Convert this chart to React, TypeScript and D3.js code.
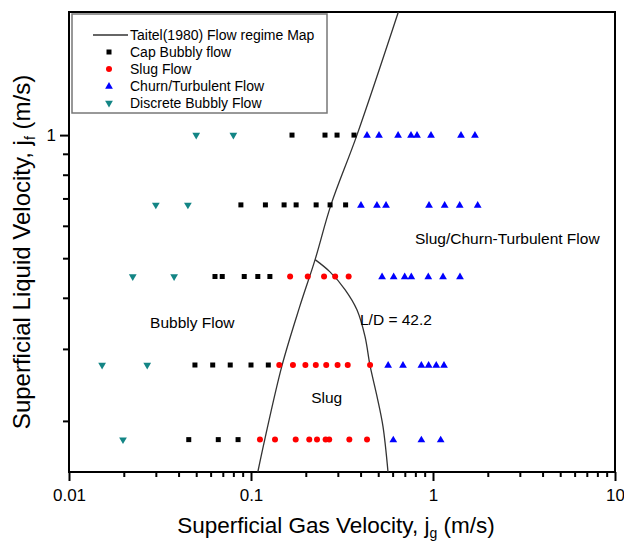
import * as d3 from "d3";
import React, { useRef, useEffect } from "react";

// superficial liquid velocity of each measurement row (m/s)
const liquidLevels = [1.0, 0.675, 0.451, 0.274, 0.18];

// superficial gas velocity of the points, one list per liquid row
const discreteBubbly = [
  [0.05, 0.08],
  [0.03, 0.045],
  [0.0224, 0.0378],
  [0.0152, 0.0269],
  [0.0198],
];
const capBubbly = [
  [0.168, 0.255, 0.297, 0.368],
  [0.088, 0.12, 0.152, 0.177, 0.228, 0.272, 0.331],
  [0.0634, 0.0695, 0.0918, 0.109, 0.127],
  [0.0492, 0.0616, 0.0769, 0.1, 0.1245],
  [0.0455, 0.0661, 0.0849],
];
const slugFlow = [
  [],
  [],
  [0.164, 0.205, 0.252, 0.29, 0.344],
  [0.143, 0.17, 0.199, 0.227, 0.259, 0.299, 0.34, 0.451],
  [0.112, 0.1355, 0.176, 0.209, 0.2305, 0.257, 0.269, 0.347, 0.434],
];
const churnTurbulent = [
  [0.434, 0.505, 0.643, 0.757, 0.817, 0.975, 1.425, 1.7],
  [0.402, 0.492, 0.552, 0.951, 1.159, 1.402, 1.76],
  [0.525, 0.608, 0.699, 0.76, 0.942, 1.135, 1.407],
  [0.567, 0.684, 0.863, 0.946, 1.042, 1.149],
  [0.605, 0.863, 1.102],
];

// Taitel (1980) bubbly/slug boundary
const taitelJg = [0.109, 0.119, 0.148, 0.185, 0.225, 0.275, 0.382, 0.645];
const taitelJf = [0.15, 0.18, 0.273, 0.38, 0.496, 0.675, 1.0, 2.0];
// slug / churn boundary, L/D = 42.2
const ldJg = [0.225, 0.2716, 0.3285, 0.382, 0.423, 0.451, 0.492, 0.531, 0.566];
const ldJf = [0.496, 0.463, 0.419, 0.374, 0.322, 0.273, 0.23, 0.194, 0.15];

const xTickLabels = ["0.01", "0.1", "1", "10"];
const yTickLabels = ["1"];

const regionLabels = ["Slug/Churn-Turbulent Flow", "Bubbly Flow", "L/D = 42.2", "Slug"];
const regionJg = [0.796, 0.0279, 0.397, 0.214];
const regionJf = [0.542, 0.338, 0.344, 0.221];

const legendLabels = [
  "Taitel(1980) Flow regime Map",
  "Cap Bubbly flow",
  "Slug Flow",
  "Churn/Turbulent Flow",
  "Discrete Bubbly Flow",
];

const FONT = "Liberation Sans, Arial, sans-serif";
const TEAL = "#138585";

const App = () => {
  const gRef = useRef<SVGGElement>(null);
  const W = 624;
  const H = 544;
  const margin = { top: 12, right: 9, bottom: 72, left: 69 };

  useEffect(() => {
    const g = d3.select(gRef.current);
    g.selectAll("*").remove();

    const x = d3.scaleLog().domain([0.01, 10]).range([margin.left, W - margin.right]);
    const y = d3.scaleLog().domain([0.15, 2]).range([H - margin.bottom, margin.top]);
    const bottom = H - margin.bottom;

    // minor / major ticks
    const xMinor: number[] = [];
    [0.01, 0.1, 1].forEach(d => { for (let k = 2; k <= 9; k++) xMinor.push(d * k); });
    const xMajor = xTickLabels.map(Number);

    g.append("g")
      .attr("transform", `translate(0,${bottom})`)
      .call(d3.axisBottom(x).tickValues(xMinor).tickSize(5).tickFormat(() => ""))
      .call(a => a.select(".domain").remove())
      .selectAll("line").attr("stroke", "#000").attr("stroke-width", 2);

    const xAx = g.append("g")
      .attr("transform", `translate(0,${bottom})`)
      .call(d3.axisBottom(x).tickValues(xMajor).tickSize(9).tickPadding(8)
        .tickFormat((d, i) => xTickLabels[i]));
    xAx.select(".domain").remove();
    xAx.selectAll("line").attr("stroke", "#000").attr("stroke-width", 2);
    xAx.selectAll("text").attr("font-family", FONT).attr("font-size", 17).attr("fill", "#000");

    const yMinor = [0.2, 0.3, 0.4, 0.5, 0.6, 0.7, 0.8, 0.9];
    g.append("g")
      .attr("transform", `translate(${margin.left},0)`)
      .call(d3.axisLeft(y).tickValues(yMinor).tickSize(6).tickFormat(() => ""))
      .call(a => a.select(".domain").remove())
      .selectAll("line").attr("stroke", "#000").attr("stroke-width", 2);

    const yAx = g.append("g")
      .attr("transform", `translate(${margin.left},0)`)
      .call(d3.axisLeft(y).tickValues(yTickLabels.map(Number)).tickSize(9).tickPadding(4)
        .tickFormat((d, i) => yTickLabels[i]));
    yAx.select(".domain").remove();
    yAx.selectAll("line").attr("stroke", "#000").attr("stroke-width", 2);
    yAx.selectAll("text").attr("font-family", FONT).attr("font-size", 17).attr("fill", "#000");

    // frame
    g.append("rect")
      .attr("x", margin.left).attr("y", margin.top)
      .attr("width", W - margin.left - margin.right)
      .attr("height", bottom - margin.top)
      .attr("fill", "none").attr("stroke", "#000").attr("stroke-width", 2);

    // flow regime boundaries
    const line = d3.line<number>()
      .x(d => x(d[0])).y(d => y(d[1]))
      .curve(d3.curveCatmullRom);
    g.append("path")
      .attr("d", line(d3.zip(taitelJg, taitelJf) as any))
      .attr("fill", "none").attr("stroke", "#333").attr("stroke-width", 1.3);
    g.append("path")
      .attr("d", line(d3.zip(ldJg, ldJf) as any))
      .attr("fill", "none").attr("stroke", "#333").attr("stroke-width", 1.3);

    // points
    const flat = (rows: number[][]) =>
      rows.flatMap((r, i) => r.map(v => ({ jg: v, jf: liquidLevels[i] })));

    const tri = d3.symbol().type(d3.symbolTriangle).size(26);

    g.selectAll(".dis").data(flat(discreteBubbly)).join("path")
      .attr("d", tri)
      .attr("transform", d => `translate(${x(d.jg)},${y(d.jf)}) rotate(180)`)
      .attr("fill", TEAL);

    g.selectAll(".cap").data(flat(capBubbly)).join("rect")
      .attr("x", d => x(d.jg) - 2.5).attr("y", d => y(d.jf) - 2.5)
      .attr("width", 5).attr("height", 5).attr("fill", "#000");

    g.selectAll(".slug").data(flat(slugFlow)).join("circle")
      .attr("cx", d => x(d.jg)).attr("cy", d => y(d.jf)).attr("r", 3)
      .attr("fill", "#f00");

    g.selectAll(".churn").data(flat(churnTurbulent)).join("path")
      .attr("d", tri)
      .attr("transform", d => `translate(${x(d.jg)},${y(d.jf) + 0.5})`)
      .attr("fill", "#00f");

    // region labels
    g.selectAll(".region").data(regionLabels).join("text")
      .attr("x", (d, i) => x(regionJg[i]))
      .attr("y", (d, i) => y(regionJf[i]))
      .attr("font-family", FONT).attr("font-size", 15.5)
      .text(d => d);

    // axis titles
    const xt = g.append("text")
      .attr("x", 336)
      .attr("y", 533)
      .attr("text-anchor", "middle")
      .attr("font-family", FONT).attr("font-size", 22.5);
    xt.append("tspan").text("Superficial Gas Velocity, j");
    xt.append("tspan").attr("font-size", 14).attr("dy", 5).text("g");
    xt.append("tspan").attr("dy", -5).text(" (m/s)");

    const yt = g.append("text")
      .attr("transform", `translate(30,${(margin.top + bottom) / 2 + 10}) rotate(-90)`)
      .attr("text-anchor", "middle")
      .attr("font-family", FONT).attr("font-size", 24);
    yt.append("tspan").text("Superficial Liquid Velocity, j");
    yt.append("tspan").attr("font-size", 14).attr("dy", 5).text("f");
    yt.append("tspan").attr("dy", -5).text(" (m/s)");

    // legend
    const lg = g.append("g").attr("transform", "translate(72,14)");
    lg.append("rect").attr("width", 255).attr("height", 99)
      .attr("fill", "#fff").attr("stroke", "#777").attr("stroke-width", 1.5);
    const rowY = (i: number) => 21 + i * 17;
    lg.append("line").attr("x1", 21).attr("x2", 56)
      .attr("y1", rowY(0)).attr("y2", rowY(0))
      .attr("stroke", "#333").attr("stroke-width", 1.3);
    lg.append("rect").attr("x", 34.5).attr("y", rowY(1) - 2.5)
      .attr("width", 5).attr("height", 5).attr("fill", "#000");
    lg.append("circle").attr("cx", 37).attr("cy", rowY(2)).attr("r", 3).attr("fill", "#f00");
    lg.append("path").attr("d", tri)
      .attr("transform", `translate(37,${rowY(3) + 0.5})`).attr("fill", "#00f");
    lg.append("path").attr("d", tri)
      .attr("transform", `translate(37,${rowY(4)}) rotate(180)`).attr("fill", TEAL);
    lg.selectAll(".lt").data(legendLabels).join("text")
      .attr("x", 58).attr("y", (d, i) => rowY(i) + 5)
      .attr("font-family", FONT).attr("font-size", 14)
      .text(d => d);
  }, []);

  return (
    <svg width={W} height={H} style={{ position: "absolute", left: 0, top: 0, background: "#fff" }}>
      <g ref={gRef} />
    </svg>
  );
};

export default App;
